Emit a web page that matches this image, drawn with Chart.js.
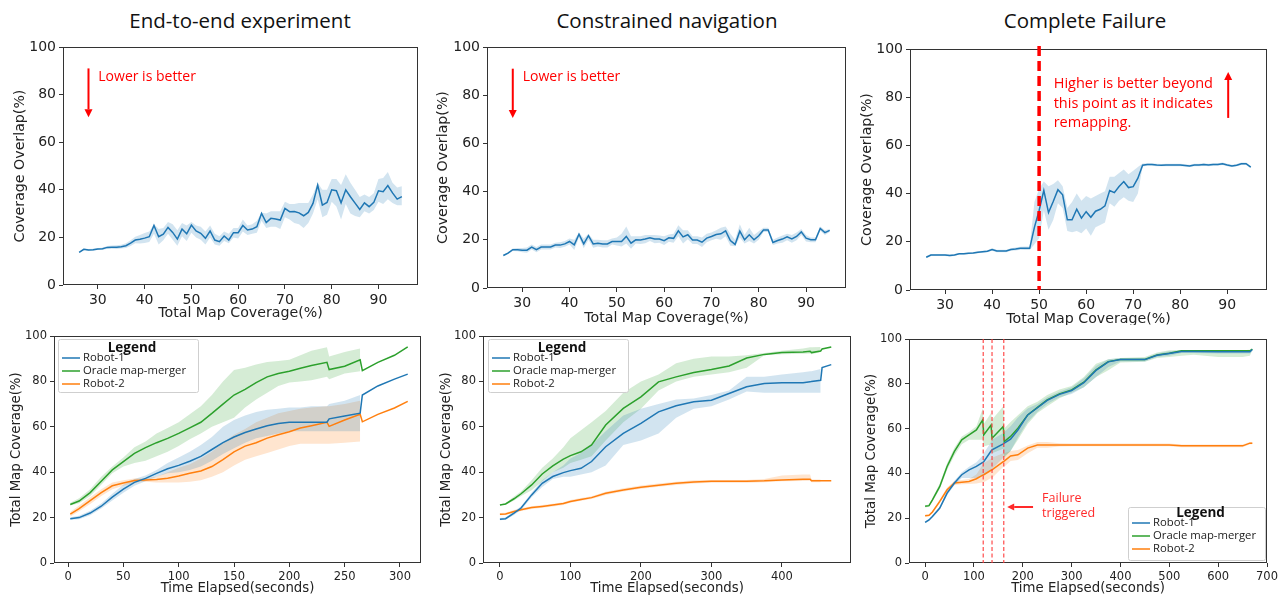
<!DOCTYPE html>
<html><head><meta charset="utf-8">
<script src="https://cdn.jsdelivr.net/npm/chart.js@4.4.1/dist/chart.umd.min.js"></script>
<style>
html,body{margin:0;padding:0;background:#fff;}
body{position:relative;width:1288px;height:597px;overflow:hidden;}
canvas{position:absolute;}
.ttl{position:absolute;top:0;height:40px;line-height:40px;width:420px;text-align:center;font-family:"Open Sans",sans-serif;font-size:20.5px;color:#111;white-space:nowrap;}
</style></head><body>
<script>
// ---------------- DATA ----------------
const panelTitles = ['End-to-end experiment', 'Constrained navigation', 'Complete Failure'];
const seriesNames = ['Robot-1', 'Oracle map-merger', 'Robot-2'];

// Top row: coverage overlap vs total map coverage
const coverageX = [26,27,28,29,30,31,32,33,34,35,36,37,38,39,40,41,42,43,44,45,46,47,48,49,50,51,52,53,54,55,56,57,58,59,60,61,62,63,64,65,66,67,68,69,70,71,72,73,74,75,76,77,78,79,80,81,82,83,84,85,86,87,88,89,90,91,92,93,94,95];
const coverageTicks = [30,40,50,60,70,80,90];
const percentTicks = [0,20,40,60,80,100];

const e2eOverlap   = [13.7,15.0,14.7,14.8,15.1,15.2,15.8,15.9,15.9,16.1, 16.5,17.6,18.9,19.2,19.7,20.3,25.0,20.3,21.4,24.2, 22.1,19.3,23.5,21.5,25.2,22.7,21.7,19.6,22.7,18.9, 18.2,20.6,18.9,22.0,22.0,25.0,23.1,23.5,24.5,30.1, 26.2,28.0,27.7,27.3,32.2,30.8,30.9,30.3,29.1,30.5, 34.3,42.0,33.6,34.7,40.0,39.6,34.5,40.0,37.1,34.4, 31.7,34.5,32.9,34.7,39.6,39.2,41.8,38.7,36.1,37.1];
const e2eOverlapHi = [14.0,15.3,15.1,15.2,15.5,15.7,16.4,16.6,16.7,16.9, 17.5,18.8,20.3,21.0,21.8,22.5,25.5,23.5,24.0,26.5, 25.5,23.0,26.0,25.0,26.5,25.0,24.5,22.5,25.0,21.5, 20.5,22.5,21.5,24.0,24.0,27.5,25.0,25.5,27.0,30.5, 30.0,31.0,31.0,31.0,35.0,34.0,34.0,34.5,34.5,34.5, 38.0,43.0,40.0,40.0,44.5,44.5,42.0,46.5,43.0,40.0, 37.0,38.0,37.0,38.5,44.5,45.0,47.5,43.0,41.0,41.5];
const e2eOverlapLo = [13.4,14.7,14.3,14.4,14.7,14.7,15.2,15.2,15.1,15.3, 15.5,16.4,17.5,17.4,17.6,18.1,21.5,17.0,18.8,21.5, 19.0,16.5,20.5,18.5,22.0,20.0,19.0,17.0,20.0,17.0, 16.5,18.5,17.5,20.0,19.5,22.5,21.0,21.5,22.0,27.0, 24.0,24.5,24.5,23.5,28.5,27.5,26.0,25.5,24.0,26.0, 30.0,36.0,28.5,29.5,35.0,33.0,27.5,34.0,30.0,29.0, 28.5,31.0,30.0,31.5,35.0,34.0,36.0,34.5,33.5,33.5];

const conOverlap   = [13.5,14.5,15.9,15.9,15.7,15.7,17.0,15.9,17.0,17.0, 17.0,17.8,17.8,18.3,19.3,17.9,22.3,18.3,21.7,18.3, 18.6,18.3,18.3,19.3,19.3,19.3,21.4,18.6,20.0,19.9, 20.3,20.8,20.3,20.3,19.6,20.8,20.6,23.7,21.2,22.1, 19.9,19.9,19.0,20.7,21.4,22.2,22.5,23.7,19.7,18.1, 23.6,20.0,22.1,20.0,21.7,24.1,24.1,18.9,19.7,20.3, 21.2,20.4,21.4,23.3,20.7,20.0,20.0,24.7,23.0,23.9];
const conOverlapHi = [13.8,14.9,16.4,16.6,16.6,16.8,18.0,17.0,18.0,18.0, 18.0,18.8,19.0,19.5,20.5,20.0,23.0,20.5,22.5,20.0, 20.0,19.8,19.8,20.5,21.0,22.5,25.5,21.5,21.5,21.5, 22.0,22.0,22.0,21.8,21.5,22.2,22.5,26.0,24.0,24.0, 21.5,21.5,21.0,22.5,23.0,24.0,25.0,25.5,22.5,20.0, 26.5,22.0,25.0,22.0,23.5,25.0,25.0,20.0,21.0,21.8, 22.5,22.0,23.0,24.5,22.0,21.0,21.0,25.5,24.0,24.5];
const conOverlapLo = [13.2,14.1,15.4,15.2,14.8,14.6,16.0,14.8,16.0,16.0, 16.0,16.8,16.6,17.1,18.0,15.8,21.0,16.5,20.0,16.7, 17.2,16.8,16.8,18.0,17.6,17.2,18.5,16.3,18.5,18.3, 18.6,19.5,18.6,18.8,17.8,19.2,18.8,21.5,18.5,20.2, 18.3,18.3,17.0,19.0,19.8,20.4,20.0,21.5,17.5,17.3, 21.0,18.5,19.5,18.5,20.0,23.2,23.2,17.8,18.5,18.8, 19.8,18.8,19.8,22.0,19.3,19.0,19.0,23.8,22.0,23.2];

const failOverlap   = [13.6,14.5,14.5,14.5,14.5,14.3,14.5,15.0,15.0,15.2, 15.4,15.7,15.9,16.1,16.8,16.2,16.2,16.2,16.8,17.0, 17.3,17.3,17.3,26.0,33.0,41.3,32.1,36.7,41.6,39.5, 29.1,29.1,33.5,29.8,32.5,30.2,32.7,33.5,34.9,41.3, 40.4,42.9,45.0,42.5,42.9,46.4,51.8,52.1,52.1,51.9, 51.8,51.9,51.9,51.9,51.9,51.7,51.5,51.9,51.9,52.1, 51.9,52.1,52.1,52.4,51.9,51.5,51.8,52.4,52.4,51.0];
const failOverlapHi = [14.0,14.9,14.9,14.9,14.9,14.7,14.9,15.4,15.4,15.6, 15.8,16.1,16.3,16.5,17.3,16.7,16.7,16.7,17.3,17.6, 17.9,18.0,18.0,36.5,42.0,45.0,43.0,44.0,45.5,43.0, 34.0,36.5,40.0,37.0,39.0,38.0,39.0,40.0,41.0,47.0, 47.0,48.5,50.0,48.0,49.5,51.0,52.5,52.6,52.6,52.4, 52.3,52.4,52.4,52.4,52.4,52.2,52.0,52.4,52.4,52.6, 52.4,52.6,52.6,52.9,52.4,52.0,52.3,52.9,52.9,51.5];
const failOverlapLo = [13.2,14.1,14.1,14.1,14.1,13.9,14.1,14.6,14.6,14.8, 15.0,15.3,15.5,15.7,16.3,15.7,15.7,15.7,16.3,16.4, 16.7,16.6,16.6,19.0,21.5,33.0,25.0,29.0,36.0,34.0, 24.5,24.0,24.5,23.5,25.5,22.5,26.0,27.0,28.0,36.0, 34.5,37.0,38.5,37.0,36.5,40.0,51.2,51.6,51.6,51.4, 51.3,51.4,51.4,51.4,51.4,51.2,51.0,51.4,51.4,51.6, 51.4,51.6,51.6,51.9,51.4,51.0,51.3,51.9,51.9,50.5];
const remapThreshold = 50;

// Bottom row: total map coverage vs time
const e2eTime = [2,10,20,30,40,50,60,70,80,90,100,110,120,130,140,150,160,170,180,190,200,210,220,234,236,250,264,266,280,295,307];
const e2eTimeTicks = [0,50,100,150,200,250,300];
const e2eRobot1   = [19.5,20.0,22.0,25.0,29.0,32.5,35.5,37.3,39.5,41.5,43.0,44.8,47.0,50.0,53.0,55.5,57.5,59.0,60.5,61.5,62.0,62.0,62.0,62.0,63.5,64.8,66.0,74.0,78.0,81.0,83.2];
const e2eRobot1Hi = [20.2,20.8,23.0,26.2,30.5,34.5,37.0,38.5,41.0,44.0,46.5,49.0,52.0,55.5,60.0,63.0,65.0,66.5,67.5,68.0,68.5,68.5,69.0,69.0,70.0,71.5,74.0,null,null,null,null];
const e2eRobot1Lo = [19.0,19.3,21.0,24.0,27.5,31.0,34.0,36.0,38.0,39.5,40.0,41.0,42.5,45.0,48.0,50.5,53.0,55.0,56.0,57.0,58.0,58.0,58.0,58.0,58.0,58.0,58.0,null,null,null,null];
const e2eOracle   = [25.8,27.3,31.0,36.0,41.0,44.7,48.3,50.8,53.0,54.9,57.1,59.5,62.0,65.9,70.0,74.0,76.5,79.5,82.0,83.5,84.5,85.8,87.0,88.4,85.2,86.7,89.5,84.7,88.4,91.5,95.2];
const e2eOracleHi = [26.5,28.5,32.5,38.0,42.5,46.5,51.0,53.5,57.0,59.5,62.0,65.5,69.0,74.0,80.0,85.0,86.0,87.5,88.5,89.0,89.5,91.5,93.5,95.0,91.0,93.0,94.5,null,null,null,null];
const e2eOracleLo = [25.3,26.3,29.5,34.5,39.5,42.5,44.0,45.0,47.0,49.0,51.5,54.5,57.0,60.0,62.0,64.0,68.5,72.0,75.0,78.0,79.5,80.0,80.5,82.0,81.0,83.5,84.5,null,null,null,null];
const e2eRobot2   = [21.5,24.0,27.5,31.0,34.0,35.2,36.3,36.6,36.8,37.3,38.3,39.5,40.5,42.5,45.5,49.0,51.5,53.0,55.0,56.5,57.8,59.5,60.5,62.0,60.2,63.0,65.5,62.2,65.5,68.3,71.2];
const e2eRobot2Hi = [22.5,25.3,29.0,32.5,35.5,36.5,37.2,37.3,38.0,40.0,42.0,43.5,46.0,49.0,53.0,56.5,59.0,62.0,64.0,66.0,67.0,68.0,68.5,69.0,69.0,70.0,71.5,null,null,null,null];
const e2eRobot2Lo = [20.5,22.8,26.0,29.5,32.5,34.0,35.5,35.8,35.5,35.5,35.5,35.8,36.5,38.0,40.0,43.0,45.5,47.0,48.5,50.0,51.5,52.5,52.5,52.5,52.5,53.0,53.5,null,null,null,null];

const conTime = [0,8,20,30,45,60,75,90,100,115,130,150,175,200,225,250,275,300,325,350,375,400,430,440,442,455,457,470];
const conTimeTicks = [0,100,200,300,400];
const conRobot1   = [19.3,19.5,22.0,24.2,30.0,35.1,38.1,39.8,40.7,41.7,44.7,51.2,57.1,61.5,66.6,69.3,71.0,71.7,74.7,77.6,79.1,79.4,79.4,79.8,80.0,80.5,86.1,87.4];
const conRobot1Hi = [19.8,20.0,22.8,25.0,31.0,36.5,40.0,43.0,46.0,48.5,52.0,58.0,65.0,68.0,70.0,72.0,72.5,74.0,76.0,82.0,82.0,83.0,84.0,84.5,84.5,85.5,null,null];
const conRobot1Lo = [18.8,19.0,21.2,23.4,29.0,33.5,37.0,38.0,38.0,39.0,40.0,43.0,52.0,54.0,57.0,64.0,68.0,69.0,72.0,75.5,75.0,75.0,75.0,75.0,75.0,75.0,null,null];
const conOracle   = [25.6,26.0,28.3,30.5,34.4,39.2,42.8,45.8,47.3,49.0,52.0,60.8,68.1,73.2,79.8,82.0,83.9,85.2,86.8,90.3,91.9,92.7,93.0,93.3,92.7,93.4,94.3,95.2];
const conOracleHi = [25.8,26.3,29.3,31.5,36.5,42.0,46.0,51.0,55.0,58.5,62.0,67.0,75.0,80.0,83.0,88.0,90.0,91.0,91.0,91.5,92.5,93.5,94.5,95.0,95.0,95.2,null,null];
const conOracleLo = [25.4,25.7,27.5,29.5,32.0,36.0,40.0,42.0,44.0,45.5,47.0,54.0,62.0,68.0,76.0,80.0,82.0,83.0,84.0,86.0,91.5,92.0,92.2,92.3,92.0,93.0,null,null];
const conRobot2   = [21.5,21.6,22.7,23.5,24.4,24.9,25.5,26.2,27.1,28.0,28.8,30.7,32.2,33.4,34.3,35.1,35.7,36.0,36.0,36.0,36.2,36.6,36.9,36.9,36.2,36.2,36.2,36.2];
const conRobot2Hi = [22.0,22.1,23.3,24.1,25.0,25.5,26.1,26.8,27.7,28.6,29.4,31.4,32.9,34.1,35.0,35.8,36.4,36.6,36.6,36.6,37.0,38.5,39.0,39.0,36.8,36.8,null,null];
const conRobot2Lo = [21.0,21.1,22.1,22.9,23.8,24.3,24.9,25.6,26.5,27.4,28.2,30.0,31.5,32.7,33.6,34.4,35.0,35.4,35.4,35.4,35.6,36.0,36.1,36.2,35.6,35.6,null,null];

const failTime = [0,8,15,30,45,60,75,90,105,118,120,135,137,160,162,175,190,210,230,250,275,300,325,350,375,400,450,475,500,525,550,600,650,665,670];
const failTimeTicks = [0,100,200,300,400,500,600,700];
const failRobot1   = [18.1,19.2,20.8,24.5,31.2,35.7,39.4,41.6,43.1,44.9,45.2,50.0,50.5,53.2,53.5,55.3,59.4,66.1,69.3,72.6,75.3,77.0,80.5,86.0,89.8,90.8,90.8,92.7,93.5,94.4,94.4,94.3,94.3,94.3,95.3];
const failRobot1Hi = [18.5,19.6,21.3,25.2,32.2,36.7,40.5,43.0,45.0,48.0,49.0,54.0,55.0,58.0,58.5,61.0,65.0,69.0,71.0,74.0,76.5,78.5,82.5,88.0,91.0,91.5,91.5,93.5,94.5,95.0,95.0,95.0,95.0,95.0,95.5];
const failRobot1Lo = [17.7,18.8,20.3,23.8,30.2,34.7,38.0,38.0,38.0,39.0,39.0,41.5,42.0,47.0,47.5,50.0,56.0,63.0,67.5,71.0,74.0,75.5,78.5,83.0,87.5,90.0,90.0,92.0,92.5,93.8,93.8,93.5,93.5,93.5,95.0];
const failOracle   = [25.3,25.6,28.2,34.2,43.1,49.8,55.0,57.2,59.4,63.9,57.2,61.6,55.7,60.9,54.2,56.5,60.2,66.1,69.5,72.8,75.5,77.3,80.7,86.2,89.9,90.9,90.9,92.9,93.6,94.7,94.7,94.7,94.7,94.7,95.5];
const failOracleHi = [25.8,26.1,29.0,35.5,44.5,51.5,56.5,58.5,61.0,69.0,62.0,67.0,64.0,70.0,60.0,63.0,66.0,70.0,72.0,75.0,77.5,79.0,83.0,89.0,91.0,91.5,92.0,94.0,95.0,95.0,95.0,95.0,95.0,95.2,95.7];
const failOracleLo = [24.8,25.1,27.4,33.0,41.5,48.0,53.0,55.0,55.0,55.0,52.0,53.0,49.0,51.0,47.0,50.0,55.0,62.0,67.0,70.0,73.5,76.0,78.5,83.0,86.0,89.5,89.8,91.5,92.0,92.5,93.0,92.0,92.0,92.5,95.0];
const failRobot2   = [21.1,21.3,22.8,27.5,32.7,35.7,36.1,36.4,37.6,39.2,39.4,41.4,41.6,45.3,45.5,47.8,48.3,51.3,52.7,52.7,52.7,52.7,52.7,52.7,52.7,52.7,52.7,52.7,52.7,52.3,52.3,52.3,52.3,53.5,53.5];
const failRobot2Hi = [21.5,21.7,23.3,28.3,33.7,36.6,37.0,37.5,39.5,44.0,44.5,46.5,47.0,49.0,49.0,50.0,50.5,52.5,54.0,54.0,53.5,53.3,53.3,53.3,53.3,53.3,53.3,53.3,53.3,52.9,52.9,52.9,52.9,54.0,54.0];
const failRobot2Lo = [20.7,20.9,22.3,26.7,31.7,34.8,35.2,35.3,35.5,36.0,36.0,38.0,38.0,43.0,43.0,45.5,46.0,49.0,51.5,51.5,52.0,52.1,52.1,52.1,52.1,52.1,52.1,52.1,52.1,51.7,51.7,51.7,51.7,53.0,53.0];
const failureTimes = [119,137,161];

// ---------------- STYLE / HELPERS ----------------
const C_BLUE = '#1f77b4', C_GREEN = '#2ca02c', C_ORANGE = '#ff7f0e';
const BAND = {[C_BLUE]:'rgba(31,119,180,0.2)', [C_GREEN]:'rgba(44,160,44,0.2)', [C_ORANGE]:'rgba(255,127,14,0.2)'};
const AX = '#333', TXT = '#222';

const pts = (xs, ys) => xs.map((x, i) => ({x, y: ys[i] === undefined ? null : ys[i]}));
function series(xs, mean, hi, lo, color) {
  return [
    {data: pts(xs, hi), borderColor: 'rgba(0,0,0,0)', borderWidth: 0, pointRadius: 0, fill: '+1', backgroundColor: BAND[color], order: 2, spanGaps: false},
    {data: pts(xs, lo), borderColor: 'rgba(0,0,0,0)', borderWidth: 0, pointRadius: 0, fill: false, order: 2, spanGaps: false},
    {data: pts(xs, mean), borderColor: color, borderWidth: 1.5, pointRadius: 0, fill: false, order: 0, tension: 0}
  ];
}

function drawArrow(ctx, x1, y1, x2, y2, color, lw, head) {
  const ang = Math.atan2(y2 - y1, x2 - x1);
  const bx = x2 - head * Math.cos(ang), by = y2 - head * Math.sin(ang);
  ctx.strokeStyle = color; ctx.lineWidth = lw;
  ctx.beginPath(); ctx.moveTo(x1, y1); ctx.lineTo(bx, by); ctx.stroke();
  ctx.fillStyle = color; ctx.beginPath(); ctx.moveTo(x2, y2);
  ctx.lineTo(bx + (head / 2) * Math.sin(ang), by - (head / 2) * Math.cos(ang));
  ctx.lineTo(bx - (head / 2) * Math.sin(ang), by + (head / 2) * Math.cos(ang));
  ctx.closePath(); ctx.fill();
}

const extrasPlugin = {
  id: 'extras',
  afterDraw(chart, args, o) {
    const {ctx, chartArea: a} = chart;
    const x = chart.scales.x, y = chart.scales.y;
    ctx.save();
    ctx.strokeStyle = AX; ctx.lineWidth = 1;
    ctx.strokeRect(a.left + 0.5, a.top + 0.5, a.right - a.left - 1, a.bottom - a.top - 1);
    (o.vlines || []).forEach(v => {
      const px = x.getPixelForValue(v.x);
      ctx.save();
      ctx.setLineDash(v.dash); ctx.lineWidth = v.width; ctx.strokeStyle = v.color;
      ctx.beginPath(); ctx.moveTo(px, a.top - (v.ext || 0)); ctx.lineTo(px, a.bottom); ctx.stroke();
      ctx.restore();
    });
    (o.arrows || []).forEach(r => {
      drawArrow(ctx, x.getPixelForValue(r.x1), y.getPixelForValue(r.y1), x.getPixelForValue(r.x2), y.getPixelForValue(r.y2), r.color, r.width, r.head);
    });
    (o.texts || []).forEach(t => {
      ctx.font = t.font; ctx.fillStyle = t.color; ctx.textAlign = 'left'; ctx.textBaseline = 'middle';
      const px = x.getPixelForValue(t.x), py = y.getPixelForValue(t.y);
      t.lines.forEach((s, i) => ctx.fillText(s, px, py + i * t.lh));
    });
    if (o.legend) {
      const L = o.legend;
      const bx = L.anchor === 'tl' ? a.left + L.dx : a.right + L.dx - L.w;
      const by = L.anchor === 'tl' ? a.top + L.dy : a.bottom + L.dy - L.h;
      ctx.fillStyle = 'rgba(255,255,255,0.85)'; ctx.strokeStyle = '#cfcfcf'; ctx.lineWidth = 1;
      ctx.beginPath(); ctx.roundRect(bx + 0.5, by + 0.5, L.w, L.h, 2); ctx.fill(); ctx.stroke();
      ctx.fillStyle = '#111'; ctx.font = 'bold 13.5px "Open Sans"'; ctx.textAlign = 'center'; ctx.textBaseline = 'alphabetic';
      ctx.fillText('Legend', bx + L.w / 2 + 4, by + L.titleBase);
      const cols = [C_BLUE, C_GREEN, C_ORANGE];
      ctx.font = '11.3px "Open Sans"'; ctx.textAlign = 'left'; ctx.textBaseline = 'middle';
      seriesNames.forEach((n, i) => {
        const iy = by + L.item0 + i * 13;
        ctx.strokeStyle = cols[i]; ctx.lineWidth = 1.5;
        ctx.beginPath(); ctx.moveTo(bx + 4, iy); ctx.lineTo(bx + 22, iy); ctx.stroke();
        ctx.fillStyle = '#222'; ctx.fillText(n, bx + 25, iy);
      });
    }
    ctx.restore();
  }
};
Chart.register(extrasPlugin);

function panel(box, plot, cfg) {
  const c = document.createElement('canvas');
  c.width = box.w; c.height = box.h;
  c.style.left = box.x + 'px'; c.style.top = box.y + 'px';
  c.style.width = box.w + 'px'; c.style.height = box.h + 'px';
  document.body.appendChild(c);
  const yW = plot.l - box.x, xH = box.y + box.h - plot.b;
  const tickFont = {family: 'DejaVu Sans', size: cfg.tickSize};
  const titleFont = {family: 'DejaVu Sans', size: cfg.labelSize};
  new Chart(c, {
    type: 'line',
    data: {datasets: cfg.datasets},
    options: {
      responsive: false, animation: false, devicePixelRatio: 1,
      layout: {padding: {left: 0, top: plot.t - box.y, right: box.x + box.w - plot.r, bottom: 0}},
      plugins: {legend: {display: false}, tooltip: {enabled: false}, extras: cfg.extras},
      scales: {
        x: {type: 'linear', min: cfg.xMin, max: cfg.xMax,
            afterFit: s => { s.height = xH; },
            afterBuildTicks: s => { s.ticks = cfg.xTicks.map(v => ({value: v})); },
            ticks: {font: tickFont, color: TXT, padding: 3, autoSkip: false, maxRotation: 0},
            grid: {drawOnChartArea: false, tickLength: 4, color: AX},
            border: {display: false},
            title: {display: true, text: cfg.xTitle, font: titleFont, color: TXT, padding: {top: 0, bottom: cfg.xTitlePad}}},
        y: {type: 'linear', min: 0, max: 100,
            afterFit: s => { s.width = yW; },
            afterBuildTicks: s => { s.ticks = percentTicks.map(v => ({value: v})); },
            ticks: {font: tickFont, color: TXT, padding: 3, autoSkip: false},
            grid: {drawOnChartArea: false, tickLength: 4, color: AX},
            border: {display: false},
            title: {display: true, text: cfg.yTitle, font: titleFont, color: TXT, padding: {top: cfg.yTitlePad, bottom: 0}}}
      }
    }
  });
}

// ---------------- TITLES ----------------
[240, 667, 1085].forEach((cx, i) => {
  const d = document.createElement('div');
  d.className = 'ttl'; d.textContent = panelTitles[i];
  d.style.left = (cx - 210) + 'px';
  document.body.appendChild(d);
});

// ---------------- TOP ROW ----------------
const RED = '#ff0000';
const topCommon = {xMin: 22.55, xMax: 98.45, xTicks: coverageTicks, tickSize: 14, labelSize: 14.2,
  xTitle: 'Total Map Coverage(%)', yTitle: 'Coverage Overlap(%)'};
const lowerNote = {
  arrows: [{x1: 28, y1: 91, x2: 28, y2: 70.5, color: RED, width: 2, head: 8}],
  texts: [{x: 30.1, y: 87.5, lines: ['Lower is better'], font: '14px "Open Sans"', color: RED, lh: 19.5}]
};
panel({x: 0, y: 30, w: 428, h: 295}, {l: 63, r: 418, t: 47, b: 285},
  Object.assign({}, topCommon, {datasets: series(coverageX, e2eOverlap, e2eOverlapHi, e2eOverlapLo, C_BLUE),
    xTitlePad: 3.5, yTitlePad: 11.6, extras: lowerNote}));
panel({x: 428, y: 30, w: 428, h: 295}, {l: 487, r: 846, t: 47, b: 288},
  Object.assign({}, topCommon, {datasets: series(coverageX, conOverlap, conOverlapHi, conOverlapLo, C_BLUE),
    xTitlePad: -2, yTitlePad: 6.9, extras: lowerNote}));
panel({x: 856, y: 30, w: 432, h: 295}, {l: 910, r: 1267, t: 49, b: 290},
  Object.assign({}, topCommon, {datasets: series(coverageX, failOverlap, failOverlapHi, failOverlapLo, C_BLUE),
    xTitlePad: -2.5, yTitlePad: 2.9, extras: {
      vlines: [{x: remapThreshold, color: RED, width: 3.5, dash: [10, 5], ext: 3}],
      arrows: [{x1: 90.2, y1: 71.4, x2: 90.2, y2: 90.5, color: RED, width: 2, head: 8}],
      texts: [{x: 53.1, y: 85.5, lines: ['Higher is better beyond', 'this point as it indicates', 'remapping.'], font: '14.5px "Open Sans"', color: RED, lh: 19.5}]
    }}));

// ---------------- BOTTOM ROW ----------------
const botCommon = {tickSize: 11.5, labelSize: 13.3, xTitle: 'Time Elapsed(seconds)', yTitle: 'Total Map Coverage(%)', xTitlePad: 0.5};
function bottomSets(t, r1, r1h, r1l, o, oh, ol, r2, r2h, r2l) {
  return [].concat(series(t, r1, r1h, r1l, C_BLUE), series(t, o, oh, ol, C_GREEN), series(t, r2, r2h, r2l, C_ORANGE));
}
panel({x: 0, y: 325, w: 428, h: 272}, {l: 54, r: 421, t: 336, b: 563},
  Object.assign({}, botCommon, {xMin: -12.7, xMax: 319, xTicks: e2eTimeTicks, yTitlePad: 8.5,
    datasets: bottomSets(e2eTime, e2eRobot1, e2eRobot1Hi, e2eRobot1Lo, e2eOracle, e2eOracleHi, e2eOracleLo, e2eRobot2, e2eRobot2Hi, e2eRobot2Lo),
    extras: {legend: {anchor: 'tl', dx: 4, dy: 3, w: 140, h: 53, titleBase: 13, item0: 19}}}));
panel({x: 428, y: 325, w: 428, h: 272}, {l: 483, r: 851, t: 336, b: 563},
  Object.assign({}, botCommon, {xMin: -24, xMax: 498, xTicks: conTimeTicks, yTitlePad: 10.5,
    datasets: bottomSets(conTime, conRobot1, conRobot1Hi, conRobot1Lo, conOracle, conOracleHi, conOracleLo, conRobot2, conRobot2Hi, conRobot2Lo),
    extras: {legend: {anchor: 'tl', dx: 5, dy: 3, w: 140, h: 53, titleBase: 13, item0: 19}}}));
panel({x: 856, y: 325, w: 432, h: 272}, {l: 909, r: 1267, t: 339, b: 563},
  Object.assign({}, botCommon, {xMin: -33, xMax: 700, xTicks: failTimeTicks, yTitlePad: 7.5,
    datasets: bottomSets(failTime, failRobot1, failRobot1Hi, failRobot1Lo, failOracle, failOracleHi, failOracleLo, failRobot2, failRobot2Hi, failRobot2Lo),
    extras: {
      vlines: failureTimes.map(t => ({x: t, color: 'rgba(255,60,60,0.85)', width: 1.3, dash: [4, 2.5], ext: 0})),
      arrows: [{x1: 221, y1: 25, x2: 168, y2: 25, color: '#ff2a2a', width: 2, head: 7}],
      texts: [{x: 239.5, y: 29, lines: ['Failure', 'triggered'], font: '12.5px "Open Sans"', color: '#ff2a2a', lh: 15}],
      legend: {anchor: 'br', dx: -2, dy: -3, w: 137, h: 53, titleBase: 10, item0: 16}
    }}));
</script>
</body></html>
